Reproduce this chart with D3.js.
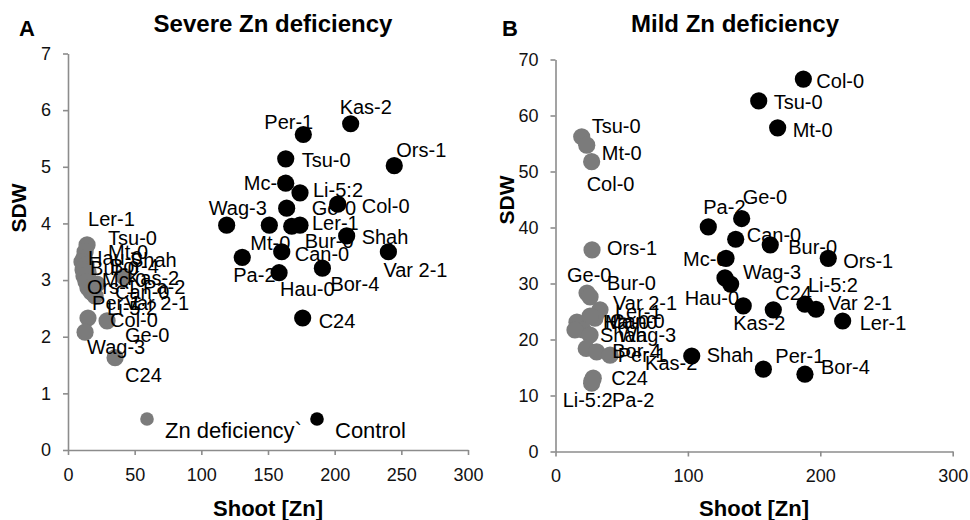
<!DOCTYPE html>
<html><head><meta charset="utf-8">
<script src="https://cdn.jsdelivr.net/npm/d3@7"></script>
<style>
html,body{margin:0;padding:0;background:#fff;}
svg{display:block;font-family:"Liberation Sans",Arial,sans-serif;}
</style></head>
<body><svg id="c" width="970" height="520"></svg>
<script>
// ---------- DATA ----------
// Panel A: Severe Zn deficiency
const sevNames = ["Kas-2","Per-1","Tsu-0","Ors-1","Mc-0","Li-5:2","Col-0","Ge-0","Wag-3","Mt-0","Bur-0","Ler-1","Shah","Can-0","Var 2-1","Pa-2","Hau-0","Bor-4","C24"];
const sevCtrlZn  = [212.0,176.5,163.3,244.7,163.3,174.0,202.3,164.0,119.0,151.0,167.8,174.0,209.0,160.3,240.3,130.7,158.3,190.8,176.0];
const sevCtrlSDW = [5.76,5.57,5.14,5.02,4.71,4.54,4.34,4.27,3.97,3.97,3.95,3.97,3.78,3.50,3.50,3.40,3.13,3.21,2.33];

const sevDefNames = ["Ler-1","Tsu-0","Mt-0","Hau-0","Shah","Bur-0","Bor-4","Kas-2","Mc-0","Pa-2","Ors-1","Can-0","Per-1","Var 2-1","Li-5:2","Col-0","Ge-0","Wag-3","C24"];
const sevDefZn  = [14.3,12.8,12.0,10.5,13.5,11.3,15.0,42.0,12.0,21.8,13.5,15.0,17.3,18.8,20.3,29.3,15.0,12.8,35.3];
const sevDefSDW = [3.62,3.50,3.39,3.32,3.27,3.18,3.14,3.06,3.07,2.93,2.97,2.86,2.79,2.83,2.72,2.28,2.33,2.08,1.63];

// Panel B: Mild Zn deficiency
const mildNames = ["Col-0","Tsu-0","Mt-0","Ge-0","Pa-2","Can-0","Bur-0","Ors-1","Mc-0","Wag-3","Hau-0","Kas-2","C24","Li-5:2","Var 2-1","Ler-1","Shah","Per-1","Bor-4"];
const mildCtrlZn  = [187.2,153.5,167.8,140.6,115.4,136.1,162.2,206.0,128.8,128.0,132.3,141.8,164.5,188.4,196.8,216.9,102.9,157.0,188.4];
const mildCtrlSDW = [66.5,62.6,57.8,41.6,40.1,37.9,36.9,34.5,34.5,31.0,29.9,26.0,25.3,26.3,25.4,23.3,17.05,14.7,13.8];

const mildDefNames = ["Tsu-0","Mt-0","Col-0","Ors-1","Ge-0","Bur-0","Var 2-1","Ler-1","Hau-0","Can-0","Mc-0","Shah","Wag-3","Bor-4","Per-1","Kas-2","C24","Li-5:2","Pa-2"];
const mildDefZn  = [19.8,23.6,27.3,27.6,23.8,26.1,33.6,29.8,16.2,26.1,20.8,14.7,26.1,23.2,31.1,41.2,28.5,27.3,27.6];
const mildDefSDW = [56.2,54.7,51.75,36.0,28.3,27.6,25.3,23.8,23.1,24.2,21.7,21.7,20.8,18.4,17.8,17.2,13.1,12.2,12.6];

const xTicksA = [0,50,100,150,200,250,300];
const yTicksA = [0,1,2,3,4,5,6,7];
const xTicksB = [0,100,200,300];
const yTicksB = [0,10,20,30,40,50,60,70];
const seriesNames = ["Zn deficiency`","Control"];

// ---------- LABEL PLACEMENT (pixel offsets from marker centre) ----------
const offSevCtrl = {"Kas-2":[-11,-17],"Per-1":[-39,-13],"Tsu-0":[16,1],"Ors-1":[2,-16],"Mc-0":[-42,0],"Li-5:2":[13,-3],"Col-0":[24,2],"Ge-0":[25,0],"Wag-3":[-18,-17],"Mt-0":[-19,18],"Bur-0":[13,15],"Ler-1":[12,-2],"Shah":[15,1],"Can-0":[13,2],"Var 2-1":[-5,18],"Pa-2":[-9,17],"Hau-0":[1,16],"Bor-4":[8,16],"C24":[16,3]};
const offSevDef = {"Ler-1":[1,-26],"Tsu-0":[23,-14],"Mt-0":[24,-6],"Hau-0":[6,-4],"Shah":[44,-5],"Bur-0":[7,-2],"Bor-4":[22,-6],"Kas-2":[3,1],"Mc-0":[18,4],"Pa-2":[46,3],"Ors-1":[1,5],"Can-0":[27,4],"Per-1":[1,11],"Var 2-1":[32,13],"Li-5:2":[12,12],"Col-0":[3,-1],"Ge-0":[37,17],"Wag-3":[2,15],"C24":[10,17]};
const offMildCtrl = {"Col-0":[13,2],"Tsu-0":[15,1],"Mt-0":[15,2],"Ge-0":[1,-22],"Pa-2":[-5,-20],"Can-0":[11,-4],"Bur-0":[18,2],"Ors-1":[15,2],"Mc-0":[-43,0],"Wag-3":[18,-6],"Hau-0":[-46,14],"Kas-2":[-10,17],"C24":[2,-17],"Li-5:2":[3,-19],"Var 2-1":[12,-6],"Ler-1":[17,2],"Shah":[15,-1],"Per-1":[12,-13],"Bor-4":[16,-7]};
const offMildDef = {"Tsu-0":[10,-11],"Mt-0":[15,8],"Col-0":[-5,22],"Ors-1":[15,-2],"Ge-0":[-20,-18],"Bur-0":[17,-14],"Var 2-1":[13,-7],"Ler-1":[20,-6],"Hau-0":[26,0],"Can-0":[20,5],"Mc-0":[22,-8],"Shah":[25,5],"Wag-3":[28,0],"Bor-4":[26,2],"Per-1":[21,3],"Kas-2":[35,8],"C24":[18,0],"Li-5:2":[-29,17],"Pa-2":[20,19]};

// ---------- DRAW ----------
const svg = d3.select("#c");
const GREY = "#7b7b7b", AXIS = "#8c8c8c", R = 8.6;

function panel(cfg){
  const x = d3.scaleLinear().domain([0,300]).range(cfg.xr);
  const y = d3.scaleLinear().domain(cfg.yd).range(cfg.yr);
  const g = svg.append("g");

  const xa = g.append("g").attr("transform",`translate(0,${cfg.yr[0]})`)
    .call(d3.axisBottom(x).tickValues(cfg.xt).tickFormat(d3.format("d")).tickSize(5).tickSizeOuter(0).tickPadding(13));
  const ya = g.append("g").attr("transform",`translate(${cfg.xr[0]},0)`)
    .call(d3.axisLeft(y).tickValues(cfg.yt).tickFormat(d3.format("d")).tickSize(5).tickSizeOuter(0).tickPadding(12));
  [xa,ya].forEach(a=>{
    a.selectAll("path,line").attr("stroke",AXIS).attr("stroke-width",1.6);
    a.selectAll("text").attr("fill","#111").style("font-size","18px").style("font-family","'Liberation Sans',Arial,sans-serif");
  });

  const sets = [
    {n:cfg.dn, xs:cfg.dx, ys:cfg.dy, off:cfg.doff, fill:GREY},
    {n:cfg.cn, xs:cfg.cx, ys:cfg.cy, off:cfg.coff, fill:"#000"}
  ];
  sets.forEach(s=>{
    g.append("g").selectAll("circle").data(s.n).join("circle")
      .attr("cx",(d,i)=>x(s.xs[i])).attr("cy",(d,i)=>y(s.ys[i]))
      .attr("r",R).attr("fill",s.fill);
  });
  sets.forEach(s=>{
    g.append("g").selectAll("text").data(s.n).join("text")
      .attr("x",(d,i)=>x(s.xs[i])+s.off[d][0])
      .attr("y",(d,i)=>y(s.ys[i])+s.off[d][1])
      .attr("dy","0.36em").attr("fill","#000")
      .style("font-size","20px").text(d=>d);
  });

  // axis titles & panel title
  g.append("text").attr("x",(cfg.xr[0]+cfg.xr[1])/2).attr("y",508).attr("dy","0.36em")
    .attr("text-anchor","middle").style("font-weight","bold").style("font-size","22px").text("Shoot [Zn]");
  g.append("text").attr("transform",`translate(${cfg.sdwX},${cfg.sdwY}) rotate(-90)`)
    .attr("text-anchor","middle").attr("dy","0.36em").style("font-weight","bold").style("font-size","21px").text("SDW");
  g.append("text").attr("x",cfg.titleX).attr("y",23).attr("dy","0.36em").attr("text-anchor","middle")
    .style("font-weight","bold").style("font-size","24px").text(cfg.title);
  g.append("text").attr("x",cfg.letterX).attr("y",28).attr("dy","0.36em").attr("text-anchor","middle")
    .style("font-weight","bold").style("font-size","22px").text(cfg.letter);
  return {x,y,g};
}

const A = panel({xr:[68,468], yd:[0,7], yr:[450,53.5], xt:xTicksA, yt:yTicksA,
  dn:sevDefNames, dx:sevDefZn, dy:sevDefSDW, doff:offSevDef,
  cn:sevNames, cx:sevCtrlZn, cy:sevCtrlSDW, coff:offSevCtrl,
  sdwX:18, sdwY:208, title:"Severe Zn deficiency", titleX:273, letter:"A", letterX:27});
const B = panel({xr:[555.5,952.7], yd:[0,70], yr:[451.5,59.5], xt:xTicksB, yt:yTicksB,
  dn:mildDefNames, dx:mildDefZn, dy:mildDefSDW, doff:offMildDef,
  cn:mildNames, cx:mildCtrlZn, cy:mildCtrlSDW, coff:offMildCtrl,
  sdwX:506, sdwY:200, title:"Mild Zn deficiency", titleX:735, letter:"B", letterX:510});

// legend (inside panel A)
const leg = A.g.append("g");
[[147,GREY],[317,"#000"]].forEach((p,i)=>{
  leg.append("circle").attr("cx",p[0]).attr("cy",419).attr("r",6.8).attr("fill",p[1]);
  leg.append("text").attr("x",p[0]+18).attr("y",430).attr("dy","0.36em")
    .style("font-size","22px").text(seriesNames[i]);
});
</script></body></html>
